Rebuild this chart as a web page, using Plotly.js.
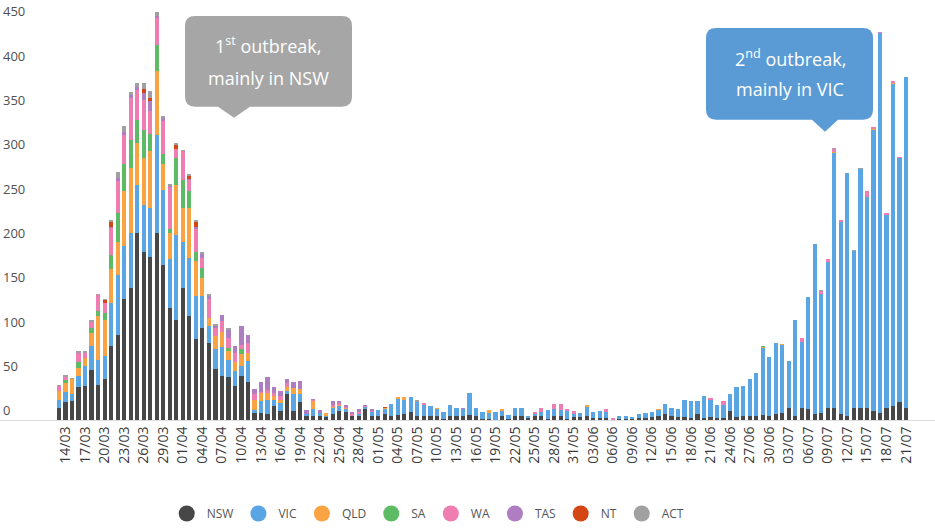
<!DOCTYPE html>
<html>
<head>
<meta charset="utf-8">
<script src="https://cdn.plot.ly/plotly-3.0.1.min.js"></script>
<style>html,body{margin:0;padding:0;background:#fff;}#chart{width:935px;height:528px;}</style>
</head>
<body>
<div id="chart"></div>
<script>
// ---- data ----
const dates = [
"13/03","14/03","15/03","16/03","17/03","18/03","19/03","20/03","21/03","22/03","23/03","24/03","25/03","26/03","27/03","28/03","29/03","30/03","31/03",
"01/04","02/04","03/04","04/04","05/04","06/04","07/04","08/04","09/04","10/04","11/04","12/04","13/04","14/04","15/04","16/04","17/04","18/04","19/04","20/04","21/04","22/04","23/04","24/04","25/04","26/04","27/04","28/04","29/04","30/04",
"01/05","02/05","03/05","04/05","05/05","06/05","07/05","08/05","09/05","10/05","11/05","12/05","13/05","14/05","15/05","16/05","17/05","18/05","19/05","20/05","21/05","22/05","23/05","24/05","25/05","26/05","27/05","28/05","29/05","30/05","31/05",
"01/06","02/06","03/06","04/06","05/06","06/06","07/06","08/06","09/06","10/06","11/06","12/06","13/06","14/06","15/06","16/06","17/06","18/06","19/06","20/06","21/06","22/06","23/06","24/06","25/06","26/06","27/06","28/06","29/06","30/06",
"01/07","02/07","03/07","04/07","05/07","06/07","07/07","08/07","09/07","10/07","11/07","12/07","13/07","14/07","15/07","16/07","17/07","18/07","19/07","20/07","21/07"];

const tickDates = ["14/03","17/03","20/03","23/03","26/03","29/03","01/04","04/04","07/04","10/04","13/04","16/04","19/04","22/04","25/04","28/04","01/05","04/05","07/05","10/05","13/05","16/05","19/05","22/05","25/05","28/05","31/05","03/06","06/06","09/06","12/06","15/06","18/06","21/06","24/06","27/06","30/06","03/07","06/07","09/07","12/07","15/07","18/07","21/07"];

const states = ["NSW","VIC","QLD","SA","WA","TAS","NT","ACT"];

const NSW = [14,20,21,37,38,56,40,46,83,96, 136,149,211,189,184,211,175,126,113,149, 117,91,104,87,57,50,48,38,50,43, 8,8,7,16,10,29,10,20,5,5, 5,3,7,10,9,4,5,12,4,4, 7,4,6,7,9,4,4,4,4,1, 4,4,5,6,4,1,1,0,4,1, 4,4,2,4,4,1,4,4,1,3, 3,4,2,2,2,0,1,1,1,2, 2,3,4,7,5,3,3,2,7,2, 3,2,2,10,3,5,5,4,6,5, 7,8,14,5,14,12,7,8,13,13, 7,5,14,13,13,10,8,14,16,20, 13];
const VIC = [9,12,8,13,23,27,28,26,49,67, 60,62,54,54,55,110,84,55,96,52, 66,49,36,19,23,32,20,17,11,23, 3,13,15,6,9,4,19,9,2,7, 3,1,6,6,3,1,2,3,5,7, 5,14,18,15,17,16,13,12,8,8, 13,9,7,25,10,8,7,9,6,5, 10,10,2,3,5,10,8,7,9,4, 5,11,7,8,7,0,4,4,2,5, 6,6,7,11,9,9,20,19,14,25, 20,15,15,19,34,33,41,49,75,66, 80,77,52,108,74,127,191,134,165,288, 216,273,177,270,238,317,428,217,363,275, 374];
const QLD = [10,10,17,9,9,15,49,41,38,38, 62,73,47,52,64,73,30,30,56,38, 56,39,20,9,15,17,10,10,13,10, 12,9,9,5,4,4,7,6,0,9, 0,4,2,1,1,0,0,0,0,0, 2,0,2,4,0,0,0,0,2,0, 0,0,0,0,0,0,3,0,2,0, 0,0,0,0,0,0,0,0,0,0, 0,2,0,0,0,0,0,0,0,0, 0,0,1,0,0,0,0,0,0,0, 0,0,0,0,0,0,0,0,1,0, 0,1,0,0,0,0,0,0,0,1, 0,0,0,0,0,1,0,0,1,0, 0];
const SA  = [0,3,0,6,0,6,6,8,16,32, 31,32,26,32,20,29,11,4,30,32, 19,11,11,0,0,0,3,0,6,0, 0,0,0,0,0,0,0,0,0,0, 0,0,0,0,0,0,0,0,0,0, 0,0,0,0,0,0,0,0,0,0, 0,0,0,0,0,0,0,0,0,0, 0,0,0,0,0,0,0,0,0,0, 0,0,0,0,0,0,0,0,0,0, 0,0,0,0,0,0,0,0,0,0, 0,0,0,0,0,0,0,0,1,0, 0,0,0,0,0,0,0,0,0,0, 0,0,0,0,0,0,0,0,0,0, 0];
const WA  = [5,4,0,11,6,6,18,11,31,36, 32,47,34,34,26,30,37,48,11,32, 13,25,12,21,9,13,12,11,5,11, 6,2,3,4,4,5,0,0,0,1, 0,0,2,2,2,2,2,1,1,0, 0,0,0,0,0,0,2,0,0,0, 0,0,0,0,0,0,0,0,0,0, 0,0,0,2,5,0,6,7,2,3, 0,0,0,0,3,2,0,0,0,0, 0,0,0,0,0,0,0,0,0,0, 2,0,4,0,0,0,0,0,0,0, 0,0,0,0,5,0,0,3,3,4, 2,0,0,0,7,2,2,2,2,2, 0];
const TAS = [0,0,0,0,0,1,0,0,1,4, 4,3,4,8,11,3,3,1,0,0, 1,3,4,4,2,6,9,7,21,9, 6,11,15,6,6,4,7,9,4,2, 3,0,4,2,2,2,3,1,2,0, 0,0,0,0,0,0,0,0,0,0, 0,0,2,0,0,0,0,0,0,0, 0,0,0,0,0,0,0,0,0,0, 0,0,0,0,0,0,0,0,0,0, 0,0,0,0,0,0,0,0,0,0, 0,0,0,0,0,0,0,0,0,0, 0,0,0,0,0,0,0,0,0,0, 0,0,0,0,0,0,0,0,0,0, 0];
const NT  = [0,0,0,0,0,0,0,3,5,0, 0,0,0,4,3,0,0,0,4,0, 3,5,0,0,0,0,0,0,0,0, 0,0,0,0,0,0,0,0,0,0, 0,0,0,0,0,0,0,0,0,0, 1,0,0,0,0,0,0,0,0,0, 0,0,0,0,0,0,0,0,0,0, 0,0,0,0,0,0,0,0,0,0, 0,0,0,0,0,0,0,0,0,0, 0,0,0,0,0,0,0,0,0,0, 0,0,0,0,0,0,0,0,0,0, 0,0,0,0,0,0,0,0,0,0, 0,0,0,0,0,0,0,0,0,0, 0];
const ACT = [2,2,1,2,2,2,1,1,3,7, 6,4,4,7,8,4,3,2,2,2, 2,3,2,2,2,0,2,0,0,0, 0,0,0,0,0,0,0,0,0,0, 0,0,0,0,0,0,0,0,0,0, 0,0,0,0,0,2,0,0,0,0, 0,0,0,0,0,0,0,0,0,0, 0,0,0,0,0,0,0,0,0,0, 0,0,0,0,0,0,0,0,0,0, 0,0,0,0,0,0,0,0,0,0, 0,0,0,0,0,0,0,0,0,0, 0,0,0,0,0,0,0,2,1,1, 1,1,1,1,0,0,0,0,0,0, 0];

const yTicks = [0,50,100,150,200,250,300,350,400,450];
const callout1 = ["1<sup>st</sup> outbreak,", "mainly in NSW"];
const callout2 = ["2<sup>nd</sup> outbreak,", "mainly in VIC"];

// ---- styling ----
const colors = {NSW:"#474747", VIC:"#5aa5e4", QLD:"#f9a342", SA:"#5dbb66", WA:"#f07db1", TAS:"#ae7dc2", NT:"#d44613", ACT:"#a0a0a0"};
const series = {NSW, VIC, QLD, SA, WA, TAS, NT, ACT};

const W = 935, PH = 421;
function P(x, y){ return (x / W) + "," + ((PH - y) / PH); }
function bubble(x0, y0, x1, y1, r, bl, br, tx, ty){
  return "M" + P(x0 + r, y0) + " L" + P(x1 - r, y0) + " Q" + P(x1, y0) + " " + P(x1, y0 + r) +
    " L" + P(x1, y1 - r) + " Q" + P(x1, y1) + " " + P(x1 - r, y1) +
    " L" + P(br, y1) + " L" + P(tx, ty) + " L" + P(bl, y1) +
    " L" + P(x0 + r, y1) + " Q" + P(x0, y1) + " " + P(x0, y1 - r) +
    " L" + P(x0, y0 + r) + " Q" + P(x0, y0) + " " + P(x0 + r, y0) + " Z";
}

const traces = [];
states.forEach(s => {
  traces.push({
    type: "bar", x: dates, y: series[s], name: s, legendgroup: s, showlegend: false,
    marker: {color: colors[s], line: {width: 0}}, hoverinfo: "x+y+name"
  });
});
states.forEach(s => {
  traces.push({
    type: "scatter", mode: "markers", x: [dates[0]], y: [null], name: s, legendgroup: s,
    marker: {color: colors[s], size: 16, symbol: "circle"}, hoverinfo: "skip"
  });
});

const textFont = {family: "Open Sans, Noto Sans, sans-serif", size: 18, color: "#ffffff"};
const layout = {
  width: 935, height: 528,
  margin: {l: 0, r: 0, t: 0, b: 107, pad: 0},
  paper_bgcolor: "#ffffff", plot_bgcolor: "#ffffff",
  barmode: "stack", bargap: 0.35,
  font: {family: "Open Sans, sans-serif", color: "#555555"},
  xaxis: {
    type: "category", range: [-9.06, 134.45], fixedrange: true,
    tickmode: "array", tickvals: tickDates, ticktext: tickDates,
    tickangle: -90, tickfont: {size: 14, color: "#3a3a3a"},
    showgrid: false, zeroline: false, showline: true, linecolor: "#dcdcdc", linewidth: 1, ticks: ""
  },
  yaxis: {
    range: [0, 473.6], fixedrange: true,
    tickmode: "array", tickvals: yTicks, ticktext: yTicks.map(String),
    ticklabelposition: "inside top", tickfont: {size: 13, color: "#505050"},
    showgrid: false, zeroline: false, showline: false, ticks: ""
  },
  legend: {
    orientation: "h", x: 0.458, xanchor: "center", y: (PH - 515) / PH, yanchor: "middle",
    font: {size: 12, color: "#555555"}, traceorder: "normal"
  },
  shapes: [
    {type: "path", xref: "paper", yref: "paper", path: bubble(185, 16, 352, 107, 10, 218, 250, 234, 118),
     fillcolor: "#a6a6a6", line: {width: 0}, layer: "above"},
    {type: "path", xref: "paper", yref: "paper", path: bubble(706, 28, 873, 120, 10, 812, 838, 825, 132),
     fillcolor: "#5b9bd5", line: {width: 0}, layer: "above"}
  ],
  annotations: [
    {xref: "paper", yref: "paper", x: 268 / W, y: (PH - 45) / PH, text: callout1[0], showarrow: false, font: textFont, xanchor: "center", yanchor: "middle"},
    {xref: "paper", yref: "paper", x: 268 / W, y: (PH - 78) / PH, text: callout1[1], showarrow: false, font: textFont, xanchor: "center", yanchor: "middle"},
    {xref: "paper", yref: "paper", x: 790 / W, y: (PH - 58) / PH, text: callout2[0], showarrow: false, font: textFont, xanchor: "center", yanchor: "middle"},
    {xref: "paper", yref: "paper", x: 790 / W, y: (PH - 89) / PH, text: callout2[1], showarrow: false, font: textFont, xanchor: "center", yanchor: "middle"}
  ]
};

Plotly.newPlot("chart", traces, layout, {displayModeBar: false, staticPlot: true});
</script>
</body>
</html>
